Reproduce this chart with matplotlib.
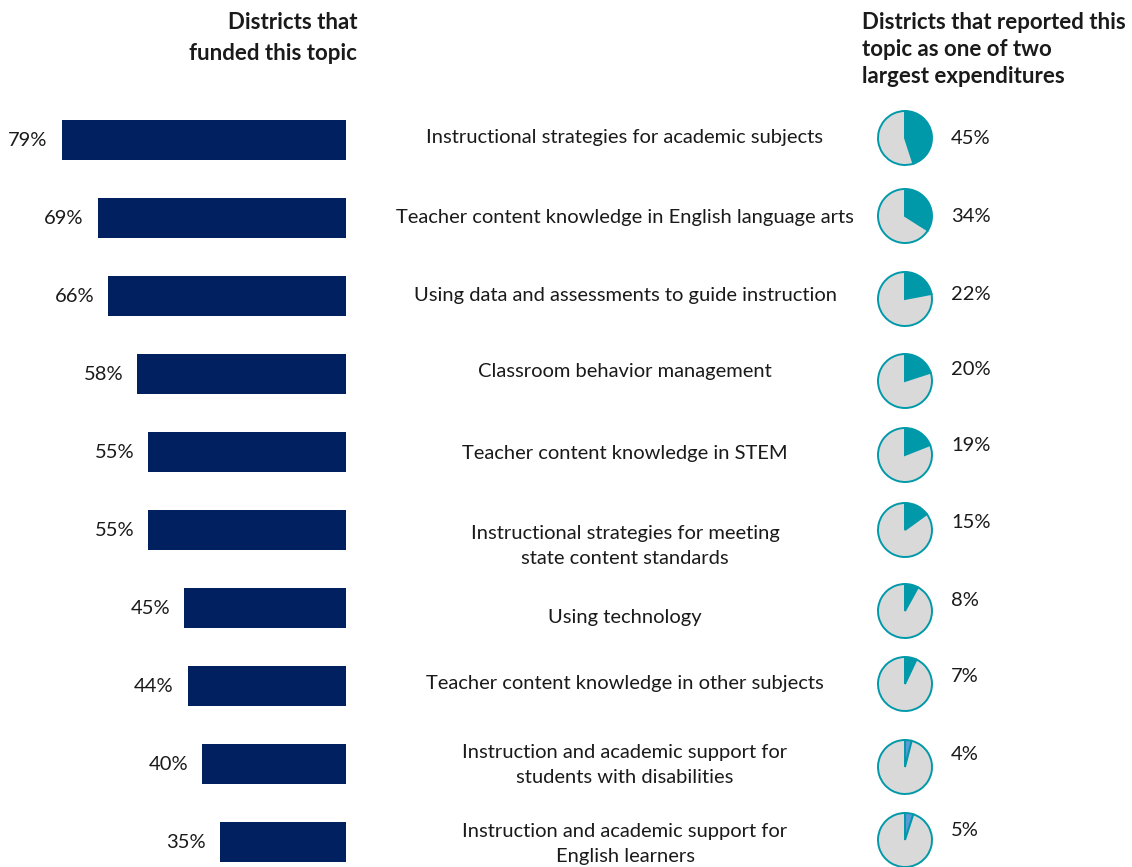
import matplotlib
matplotlib.use("Agg")
import matplotlib.pyplot as plt

plt.rcParams['font.family'] = ['Lato', 'DejaVu Sans']

# Data
topics = [
    "Instructional strategies for academic subjects",
    "Teacher content knowledge in English language arts",
    "Using data and assessments to guide instruction",
    "Classroom behavior management",
    "Teacher content knowledge in STEM",
    "Instructional strategies for meeting\nstate content standards",
    "Using technology",
    "Teacher content knowledge in other subjects",
    "Instruction and academic support for\nstudents with disabilities",
    "Instruction and academic support for\nEnglish learners",
]
funded_pct = [79, 69, 66, 58, 55, 55, 45, 44, 40, 35]
largest_pct = [45, 34, 22, 20, 19, 15, 8, 7, 4, 5]

# Styling
NAVY = "#002060"
TEAL = "#0099A9"
LIGHT_BLUE = "#5B9BD5"
GRAY = "#D9D9D9"
TEXT = "#1A1A1A"
wedge_colors = [TEAL] * 8 + [LIGHT_BLUE] * 2
BODY_SIZE = 14.5
HEAD_SIZE = 16

W, H = 1132, 867
fig = plt.figure(figsize=(W / 100, H / 100), dpi=100)
fig.patch.set_facecolor("white")

def fx(x):
    return x / W

def fy(y):
    return 1 - y / H

# Row layout (pixel centres)
row0, row_step = 140, 78
rows = [row0 + row_step * i for i in range(len(topics))]
label_dy = [-3, 0, -1, -3, 2, 16, 9, -2, 1, 2]
pie_dy = [-2, -2, 3, 7, 3, 0, 3, -2, 3, -2]
pct_dy = [-2, -2, -2, -5, -6, -7, -8, -9, -10, -12]

# Bar panel: 100% spans 360 px, bars end at x=346
bar_right, bar_span = 346, 360
top_px = row0 - row_step / 2
bot_px = rows[-1] + row_step / 2
ax = fig.add_axes([fx(bar_right - bar_span), fy(bot_px),
                   bar_span / W, (bot_px - top_px) / H])
ypos = list(range(len(topics)))
ax.barh(ypos, funded_pct, height=0.52, color=NAVY)
ax.set_xlim(100, 0)
ax.set_ylim(len(topics) - 0.5, -0.5)
ax.axis("off")
for i, v in enumerate(funded_pct):
    ax.annotate(f"{v}%", xy=(v, i), xytext=(-10, 0), textcoords="offset points",
                ha="right", va="center", fontsize=BODY_SIZE, color=TEXT)

# Topic labels
for i, t in enumerate(topics):
    fig.text(fx(625), fy(rows[i] + label_dy[i]), t, ha="center", va="center",
             fontsize=BODY_SIZE, color=TEXT, linespacing=1.55)

# Pies
pie_x, pie_box = 905, 64
for i, v in enumerate(largest_pct):
    cy = rows[i] + pie_dy[i]
    pax = fig.add_axes([fx(pie_x - pie_box / 2), fy(cy + pie_box / 2),
                        pie_box / W, pie_box / H])
    pax.pie([v, 100 - v], colors=[wedge_colors[i], GRAY], startangle=90,
            counterclock=False, radius=27 / (pie_box / 2),
            wedgeprops=dict(edgecolor=TEAL, linewidth=1.4))
    pax.set_xlim(-1, 1)
    pax.set_ylim(-1, 1)
    pax.set_aspect("equal")
    pax.axis("off")
    fig.text(fx(951), fy(rows[i] + pct_dy[i]), f"{v}%", ha="left", va="center",
             fontsize=BODY_SIZE, color=TEXT)

# Column headers
fig.text(fx(357), fy(12), "Districts that\nfunded this topic", ha="right", va="top",
         fontsize=HEAD_SIZE, fontweight="bold", color=TEXT, linespacing=1.56)
fig.text(fx(862), fy(12), "Districts that reported this\ntopic as one of two\nlargest expenditures",
         ha="left", va="top", fontsize=HEAD_SIZE, fontweight="bold", color=TEXT, linespacing=1.36)

fig.savefig("out.png", dpi=100, facecolor="white")
